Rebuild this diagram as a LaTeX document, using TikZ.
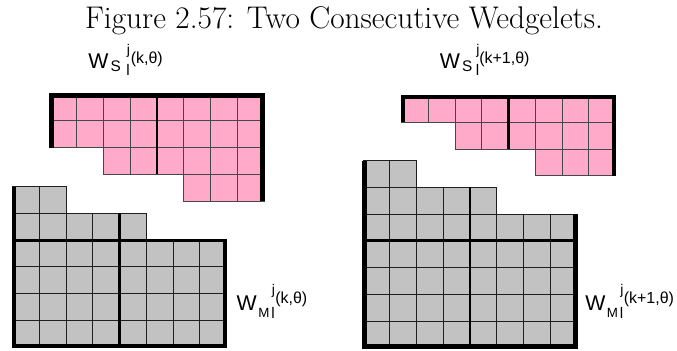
\documentclass[tikz,border=0pt]{standalone}
\usepackage{fontspec}
\newfontfamily\lab{Liberation Sans}
\definecolor{pinkc}{RGB}{255,170,200}
\definecolor{grayc}{RGB}{194,194,194}
\def\cs{26.75}
\newcommand\cellrow[6]{\foreach \cc in {#4,...,#5}{\path[#6] ({#1+\cc*\cs},{#2+#3*\cs}) rectangle ++(\cs,\cs);}}
\tikzset{
  pcell/.style={fill=pinkc,draw=black!72,line width=0.75pt},
  gcell/.style={fill=grayc,draw=black!88,line width=0.75pt},
  outer/.style={draw=black,line width=3.2pt,line join=miter},
  inner/.style={draw=black,line width=2.2pt},
  lw/.style={inner sep=0pt,anchor=base west,font=\lab\fontsize{16}{17}\selectfont},
  lsub/.style={inner sep=0pt,anchor=base west,font=\lab\fontsize{11.5}{12}\selectfont},
  lsubm/.style={inner sep=0pt,anchor=base west,font=\lab\fontsize{10}{11}\selectfont},
  lsup/.style={inner sep=0pt,anchor=base west,font=\lab\fontsize{10.5}{12}\selectfont},
  lel/.style={inner sep=0pt,anchor=base west,font=\lab\fontsize{11.5}{12}\selectfont},
  lpar/.style={inner sep=0pt,anchor=base west,font=\lab\fontsize{12}{13}\selectfont},
}
\begin{document}
\begin{tikzpicture}[x=0.75pt,y=-0.75pt]
\useasboundingbox (0,0) rectangle (677,350);
\node[anchor=base,inner sep=0pt,font=\fontsize{23.5}{28}\selectfont] (title) at (344,28.3) {Figure 2.57: Two Consecutive Wedgelets.};
% ---- left pink (x0=50, y0=94)
\cellrow{50}{94}{0}{0}{7}{pcell}
\cellrow{50}{94}{1}{0}{7}{pcell}
\cellrow{50}{94}{2}{2}{7}{pcell}
\cellrow{50}{94}{3}{5}{7}{pcell}
\draw[outer] (51.5,{94+2*\cs}) -- (51.5,95.5) -- ({50+8*\cs-1.5},95.5) -- ({50+8*\cs-1.5},{94+4*\cs});
\draw[inner] ({50+4*\cs},94) -- ({50+4*\cs},{94+3*\cs});
% ---- left gray (x0=12.6, y0=186.7)
\cellrow{12.6}{186.7}{0}{0}{1}{gcell}
\cellrow{12.6}{186.7}{1}{0}{4}{gcell}
\foreach \r in {2,...,5}{\cellrow{12.6}{186.7}{\r}{0}{7}{gcell}}
\draw[outer] (14.1,186.7) -- (14.1,{186.7+6*\cs-1.5}) -- ({12.6+8*\cs-1.5},{186.7+6*\cs-1.5}) -- ({12.6+8*\cs-1.5},{186.7+2*\cs});
\draw[inner] (12.6,{186.7+2*\cs}) -- ({12.6+8*\cs},{186.7+2*\cs});
\draw[inner] ({12.6+4*\cs},{186.7+\cs}) -- ({12.6+4*\cs},{186.7+6*\cs});
% ---- right pink (x0=401.7, y0=95.5)
\cellrow{401.7}{95.5}{0}{0}{7}{pcell}
\cellrow{401.7}{95.5}{1}{2}{7}{pcell}
\cellrow{401.7}{95.5}{2}{5}{7}{pcell}
\draw[outer] (403.2,{95.5+\cs}) -- (403.2,97) -- ({401.7+8*\cs-1.5},97) -- ({401.7+8*\cs-1.5},{95.5+3*\cs});
\draw[inner] ({401.7+4*\cs},95.5) -- ({401.7+4*\cs},{95.5+2*\cs});
% ---- right gray (x0=363, y0=160.7)
\cellrow{363}{160.7}{0}{0}{1}{gcell}
\cellrow{363}{160.7}{1}{0}{4}{gcell}
\foreach \r in {2,...,6}{\cellrow{363}{160.7}{\r}{0}{7}{gcell}}
\draw[outer] (364.5,160.7) -- (364.5,{160.7+7*\cs-1.5}) -- ({363+8*\cs-1.5},{160.7+7*\cs-1.5}) -- ({363+8*\cs-1.5},{160.7+2*\cs});
\draw[inner] (363,{160.7+3*\cs}) -- ({363+8*\cs},{160.7+3*\cs});
\draw[inner] ({363+4*\cs},{160.7+\cs}) -- ({363+4*\cs},{160.7+7*\cs});
% ---- labels
\node[lw] (a1) at (88,68) {W};
\node[lsub] (a2) at (110.3,71.5) {S};
\node[lsup] (a3) at (126.7,54.5) {j};
\node[lel] (a4) at (126.2,75.3) {l};
\node[lpar] (a5) at (130.5,63.5) {(k,θ)};
\node[lw] (b1) at (439.5,68) {W};
\node[lsub] (b2) at (461.8,71.5) {S};
\node[lsup] (b3) at (476,54.5) {j};
\node[lel] (b4) at (475.5,75.3) {l};
\node[lpar] (b5) at (479,63.5) {(k+1,θ)};
\node[lw] (c1) at (236.3,310.5) {W};
\node[lsubm] (c2) at (258,317.5) {M};
\node[lsup] (c3) at (271.5,294) {j};
\node[lel] (c4) at (271,318.3) {l};
\node[lpar] (c5) at (275,303) {(k,θ)};
\node[lw] (d1) at (585,310.5) {W};
\node[lsubm] (d2) at (606.5,317.5) {M};
\node[lsup] (d3) at (620,294) {j};
\node[lel] (d4) at (619.5,318.3) {l};
\node[lpar] (d5) at (623.5,303) {(k+1,θ)};
\end{tikzpicture}
\end{document}
